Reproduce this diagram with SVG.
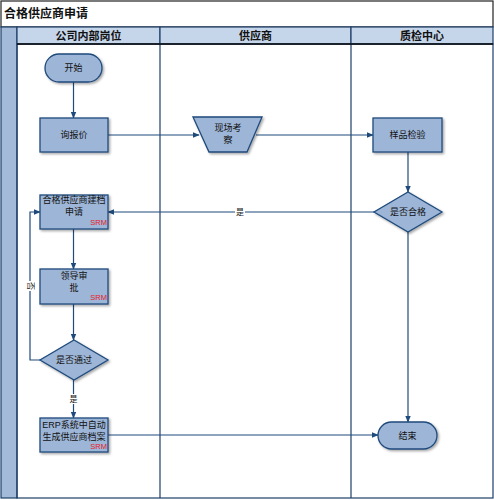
<svg xmlns="http://www.w3.org/2000/svg" width="494" height="500" viewBox="0 0 494 500">
<style>
text{font-family:"Liberation Sans","Noto Sans CJK SC",sans-serif;fill:#111;}
.nt{font-size:9px;text-anchor:middle;dominant-baseline:central;}
.hd{font-size:11px;font-weight:bold;text-anchor:middle;dominant-baseline:central;}
.srm{font-size:7.5px;fill:#e8202a;text-anchor:end;}
.lbl{font-size:8px;text-anchor:middle;dominant-baseline:central;}
.node{fill:#9db5d6;stroke:#1f4a7c;stroke-width:1.3;filter:url(#sh);}
.ln{fill:none;stroke:#1f4a7c;stroke-width:1.2;}
.lane{stroke:#1f3f6a;stroke-width:1.2;fill:none;}
</style>
<defs>
<marker id="ah" viewBox="0 0 10 10" refX="9" refY="5" markerWidth="7" markerHeight="7" orient="auto" markerUnits="userSpaceOnUse">
<path d="M0,1 L10,5 L0,9 z" fill="#1f4a7c"/>
</marker>
<filter id="sh" x="-20%" y="-20%" width="150%" height="150%">
<feDropShadow dx="1.5" dy="1.5" stdDeviation="0.8" flood-color="#000" flood-opacity="0.35"/>
</filter>
</defs>
<rect x="0" y="0" width="494" height="500" fill="#fff"/>
<g id="title">
<rect x="1" y="1" width="492" height="26" fill="#fff" stroke="#222" stroke-width="1.2"/>
<text x="4" y="14" style="font-size:12px;font-weight:bold;dominant-baseline:central;">合格供应商申请</text>
</g>
<g id="pool">
<rect x="1" y="27" width="16" height="471" fill="#a3bbd9" stroke="#1f3f6a" stroke-width="1.2"/>
<rect x="17" y="27" width="143" height="17" fill="#c6d6ea" stroke="#1f3f6a" stroke-width="1.2"/>
<rect x="160" y="27" width="191" height="17" fill="#c6d6ea" stroke="#1f3f6a" stroke-width="1.2"/>
<rect x="351" y="27" width="142" height="17" fill="#c6d6ea" stroke="#1f3f6a" stroke-width="1.2"/>
<text class="hd" x="88.5" y="35.5">公司内部岗位</text>
<text class="hd" x="255.5" y="35.5">供应商</text>
<text class="hd" x="422" y="35.5">质检中心</text>
<line class="lane" x1="160" y1="44" x2="160" y2="498"/>
<line class="lane" x1="351" y1="44" x2="351" y2="498"/>
<rect class="lane" x="17" y="44" width="476" height="454"/>
<line x1="17" y1="44" x2="493" y2="44" stroke="#111" stroke-width="1.5"/>
</g>
<g id="connectors">
<line class="ln" x1="73.5" y1="82" x2="73.5" y2="118" marker-end="url(#ah)"/>
<line class="ln" x1="108" y1="135" x2="199" y2="135" marker-end="url(#ah)"/>
<line class="ln" x1="256" y1="135" x2="373" y2="135" marker-end="url(#ah)"/>
<line class="ln" x1="408" y1="152" x2="408" y2="192" marker-end="url(#ah)"/>
<line class="ln" x1="374" y1="212" x2="108" y2="212" marker-end="url(#ah)"/>
<rect x="235" y="207" width="10" height="10" fill="#fff"/>
<text class="lbl" x="240" y="212">是</text>
<line class="ln" x1="73.5" y1="229" x2="73.5" y2="269" marker-end="url(#ah)"/>
<line class="ln" x1="73.5" y1="304" x2="73.5" y2="340" marker-end="url(#ah)"/>
<polyline class="ln" points="40,360 30,360 30,212 40,212" marker-end="url(#ah)"/>
<rect x="25" y="281" width="10" height="10" fill="#fff"/>
<text class="lbl" x="30" y="286" transform="rotate(90 30 286)">否</text>
<line class="ln" x1="73.5" y1="380" x2="73.5" y2="418" marker-end="url(#ah)"/>
<rect x="68.5" y="394" width="10" height="10" fill="#fff"/>
<text class="lbl" x="73.5" y="399">是</text>
<line class="ln" x1="108" y1="435" x2="378" y2="435" marker-end="url(#ah)"/>
<line class="ln" x1="408" y1="232" x2="408" y2="422" marker-end="url(#ah)"/>
</g>
<g id="start">
<rect class="node" x="45" y="54" width="57" height="28" rx="14"/>
<text class="nt" x="73.5" y="68">开始</text>
</g>
<g id="inquiry">
<rect class="node" x="40" y="118" width="68" height="34"/>
<text class="nt" x="74" y="135">询报价</text>
</g>
<g id="site">
<polygon class="node" points="193,117 262,117 247,152 209,152"/>
<text class="nt" x="228" y="128">现场考</text>
<text class="nt" x="228" y="140">察</text>
</g>
<g id="sample">
<rect class="node" x="373" y="118" width="69" height="34"/>
<text class="nt" x="407.5" y="135">样品检验</text>
</g>
<g id="qualified">
<polygon class="node" points="408,192 442,212 408,232 374,212"/>
<text class="nt" x="408" y="212">是否合格</text>
</g>
<g id="apply">
<rect class="node" x="40" y="195" width="68" height="34"/>
<text class="nt" x="74" y="200">合格供应商建档</text>
<text class="nt" x="74" y="212">申请</text>
<text class="srm" x="107" y="225">SRM</text>
</g>
<g id="approve">
<rect class="node" x="40" y="269" width="68" height="35"/>
<text class="nt" x="74" y="276">领导审</text>
<text class="nt" x="74" y="288">批</text>
<text class="srm" x="107" y="300">SRM</text>
</g>
<g id="pass">
<polygon class="node" points="74,340 108,360 74,380 40,360"/>
<text class="nt" x="74" y="360">是否通过</text>
</g>
<g id="erp">
<rect class="node" x="40" y="418" width="68" height="34"/>
<text class="nt" x="74" y="425">ERP系统中自动</text>
<text class="nt" x="74" y="437">生成供应商档案</text>
<text class="srm" x="107" y="449">SRM</text>
</g>
<g id="end">
<rect class="node" x="378" y="422" width="59" height="27" rx="13.5"/>
<text class="nt" x="407.5" y="435.5">结束</text>
</g>
</svg>
